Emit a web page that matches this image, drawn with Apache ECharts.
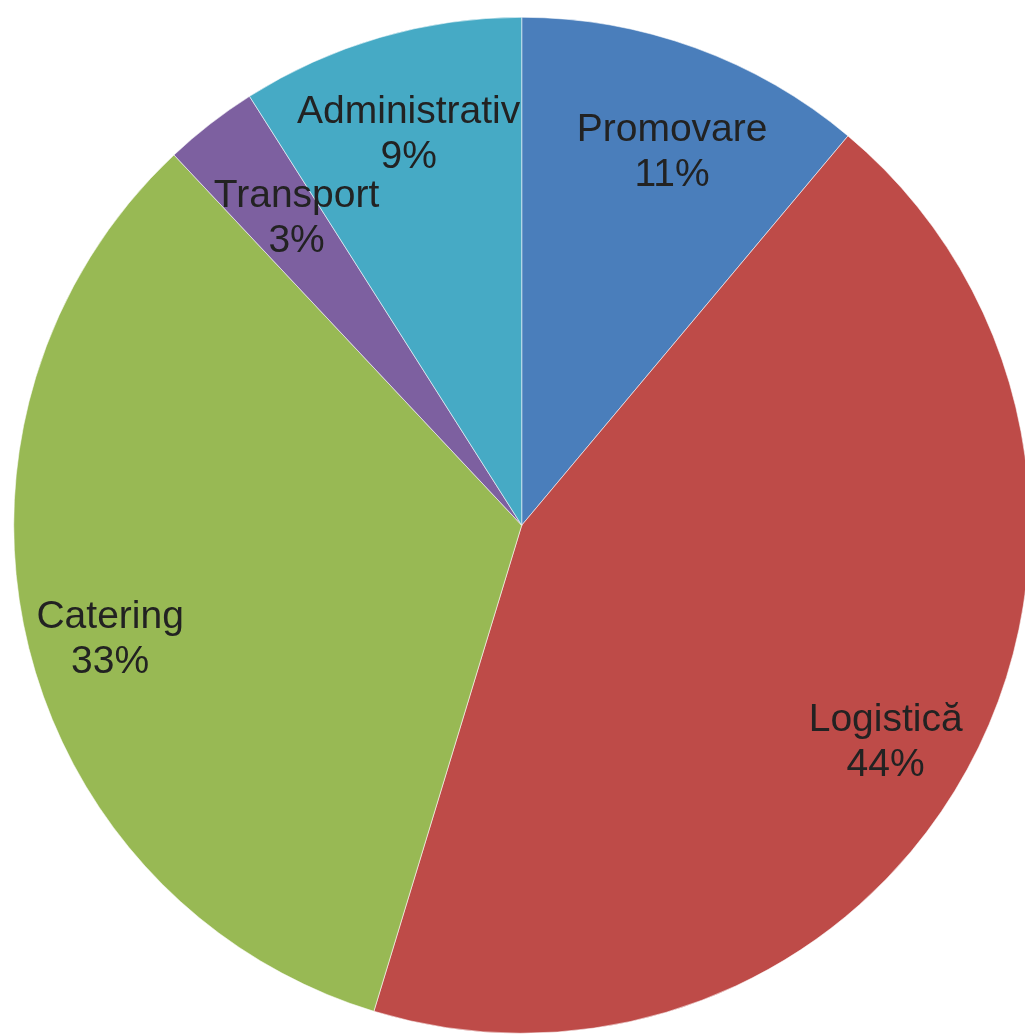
<!DOCTYPE html>
<html>
<head>
<meta charset="utf-8">
<style>
html,body{margin:0;padding:0;background:#fff;}
#chart{width:1025px;height:1034px;}
</style>
<script src="https://cdn.jsdelivr.net/npm/echarts@6/dist/echarts.min.js"></script>
</head>
<body>
<div id="chart"></div>
<script>
const categories = ['Promovare', 'Logistică', 'Catering', 'Transport', 'Administrativ'];
const values = [11.1, 43.6, 33.3, 3.0, 9.0];
const colors = ['#4a7ebb', '#be4b48', '#98b954', '#7d60a0', '#46aac5'];
// label nudges (style only), per slice: [dx, dy]
const labelNudge = [[7, 22], [-5, 18], [-3, 19], [32, 25], [4, 12]];

const data = categories.map((name, i) => ({ name: name, value: values[i] }));

const chart = echarts.init(document.getElementById('chart'));
const center = ['50.9%', '50.8%'];
const R = 508;
chart.setOption({
  animation: false,
  color: colors,
  series: [
    {
      type: 'pie',
      center: center,
      radius: [0, R],
      startAngle: 90,
      clockwise: true,
      silent: true,
      percentPrecision: 0,
      itemStyle: { borderColor: 'rgba(255,255,255,0.55)', borderWidth: 1 },
      label: { show: false },
      labelLine: { show: false },
      data: data
    },
    {
      type: 'pie',
      center: center,
      radius: [R * 0.64, R],
      startAngle: 90,
      clockwise: true,
      silent: true,
      avoidLabelOverlap: false,
      percentPrecision: 0,
      itemStyle: { color: 'rgba(0,0,0,0)' },
      labelLayout: function (p) {
        const n = labelNudge[p.dataIndex];
        return { hideOverlap: false, dx: n[0], dy: n[1] };
      },
      label: {
        show: true,
        position: 'inside',
        formatter: '{b}\n{d}%',
        fontFamily: '"Liberation Sans", Arial, sans-serif',
        fontSize: 39,
        lineHeight: 45,
        color: '#222',
        align: 'center'
      },
      labelLine: { show: false },
      data: data
    }
  ]
});
</script>
</body>
</html>
